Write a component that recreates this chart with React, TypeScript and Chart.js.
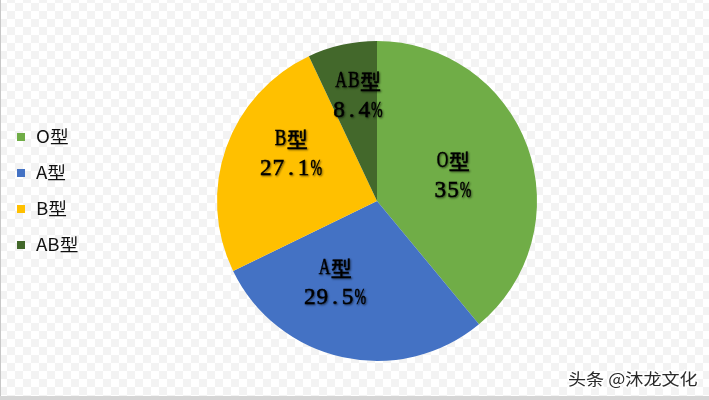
import { useEffect, useRef } from "react";
import { Chart, registerables } from "chart.js";

Chart.register(...registerables);

const categories = ["O型", "A型", "B型", "AB型"];
// printed percentages on the slices
const labelValues = [35, 29.5, 27.1, 8.4];
const sliceShares = [39.0, 28.8, 25.2, 7.0];
const colors = ["#70AD47", "#4472C4", "#FFC000", "#43682B"];
const watermark = "头条 @沐龙文化";

// label placement (fraction of radius, relative to pie centre) — layout only
const labelOffsets: [number, number][] = [
  [0.475, -0.1625],
  [-0.2625, 0.506],
  [-0.5375, -0.3],
  [-0.119, -0.6625],
];

function isCJK(ch: string) {
  return /[\u3000-\u9fff\uff00-\uffef]/.test(ch);
}

function drawMonoLine(ctx: CanvasRenderingContext2D, text: string, cx: number, cy: number) {
  const cjkW = 21;
  const latW = 12.6;
  const chars = Array.from(text);
  const total = chars.reduce((s, c) => s + (isCJK(c) ? cjkW : latW), 0);
  let x = cx - total / 2;
  ctx.textAlign = "center";
  ctx.textBaseline = "middle";
  for (const c of chars) {
    const w = isCJK(c) ? cjkW : latW;
    if (isCJK(c)) {
      ctx.font = '21px "Noto Sans CJK SC", sans-serif';
      ctx.fillText(c, x + w / 2, cy + 1);
      ctx.strokeText(c, x + w / 2, cy + 1);
    } else {
      ctx.font = '24px "Liberation Serif", serif';
      ctx.fillText(c, x + w / 2, cy + 1, 11.6);
      ctx.strokeText(c, x + w / 2, cy + 1, 11.6);
    }
    x += w;
  }
}

const overlayPlugin = {
  id: "overlay",
  afterDraw(chart: any) {
    const ctx: CanvasRenderingContext2D = chart.ctx;
    const meta = chart.getDatasetMeta(0);
    const labels: string[] = chart.data.labels;
    const bg: string[] = chart.data.datasets[0].backgroundColor;

    // slice labels
    ctx.save();
    meta.data.forEach((arc: any, i: number) => {
      const p = arc.getProps(["x", "y", "outerRadius"], true);
      const cx = p.x + labelOffsets[i][0] * p.outerRadius;
      const cy = p.y + labelOffsets[i][1] * p.outerRadius;
      ctx.shadowColor = "rgba(0,0,0,0.45)";
      ctx.shadowBlur = 2;
      ctx.shadowOffsetX = 1;
      ctx.shadowOffsetY = 1;
      ctx.fillStyle = "#000";
      ctx.strokeStyle = "#000";
      ctx.lineWidth = 0.5;
      drawMonoLine(ctx, labels[i], cx, cy - 15);
      drawMonoLine(ctx, labelValues[i] + "%", cx, cy + 15);
    });
    ctx.restore();

    // legend
    ctx.save();
    labels.forEach((lab, i) => {
      const y = 137 + 36 * i;
      ctx.fillStyle = bg[i];
      ctx.fillRect(17, y - 4, 8, 8);
      ctx.save();
      ctx.translate(36, y);
      ctx.scale(1.1, 1);
      ctx.font = '17px "Noto Sans CJK SC", sans-serif';
      ctx.textAlign = "left";
      ctx.textBaseline = "middle";
      ctx.fillStyle = "#111";
      ctx.fillText(lab, 0, 0);
      ctx.restore();
    });
    ctx.restore();

    // watermark
    ctx.save();
    ctx.translate(568, 379);
    ctx.scale(1.13, 1);
    ctx.font = '16px "Noto Sans CJK SC", sans-serif';
    ctx.textAlign = "left";
    ctx.textBaseline = "middle";
    ctx.lineWidth = 3;
    ctx.strokeStyle = "#fff";
    ctx.strokeText(watermark, 0, 0);
    ctx.fillStyle = "#2a2a2a";
    ctx.fillText(watermark, 0, 0);
    ctx.restore();
  },
};

export default function App() {
  const ref = useRef<HTMLCanvasElement>(null);

  useEffect(() => {
    document.body.style.margin = "0";
    if (!ref.current) return;
    const chart = new Chart(ref.current, {
      type: "pie",
      data: {
        labels: categories,
        datasets: [
          {
            data: sliceShares,
            backgroundColor: colors,
            borderWidth: 0,
          },
        ],
      },
      options: {
        animation: false,
        responsive: false,
        layout: { padding: { left: 217, right: 172, top: 41, bottom: 39 } },
        plugins: {
          legend: { display: false },
          tooltip: { enabled: false },
        },
      },
      plugins: [overlayPlugin],
    });
    return () => chart.destroy();
  }, []);

  return (
    <div
      style={{
        position: "relative",
        width: 709,
        height: 400,
        overflow: "hidden",
        background:
          "repeating-conic-gradient(#f3f3f3 0 25%, #ffffff 0 50%) 7px 3px / 16px 16px",
      }}
    >
      <canvas
        ref={ref}
        width={709}
        height={400}
        style={{ position: "absolute", left: 0, top: 0 }}
      />
      <div
        style={{
          position: "absolute",
          left: 0,
          top: 0,
          width: 1,
          height: 400,
          background: "#c8c8c8",
        }}
      />
      <div
        style={{
          position: "absolute",
          left: 0,
          bottom: 0,
          width: 709,
          height: 4,
          background: "#d6d6d6",
        }}
      />
    </div>
  );
}
